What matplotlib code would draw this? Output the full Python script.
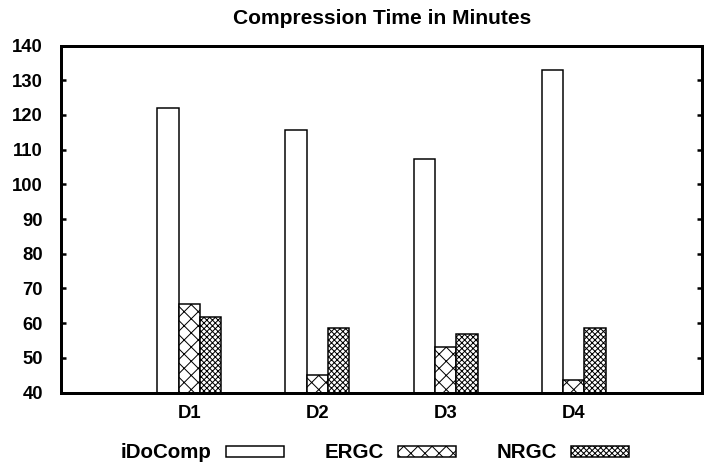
import matplotlib
matplotlib.use("Agg")
import matplotlib.pyplot as plt
import numpy as np

DPI = 85


def pt(px):
    """Convert a size in output pixels to points."""
    return px * 72 / DPI


plt.rcParams['font.family'] = ['Liberation Sans', 'DejaVu Sans']
plt.rcParams['font.weight'] = 'bold'
plt.rcParams['hatch.linewidth'] = pt(1.0)

datasets = ["D1", "D2", "D3", "D4"]
series_names = ["iDoComp", "ERGC", "NRGC"]
idocomp = [121.9, 115.6, 107.2, 132.9]
ergc = [65.6, 44.9, 53.0, 43.6]
nrgc = [61.7, 58.5, 57.0, 58.5]
yticks = [40, 50, 60, 70, 80, 90, 100, 110, 120, 130, 140]

hatches = ["", "xx", "xxxxx"]

W, H = 712, 468
fig = plt.figure(figsize=(W / DPI, H / DPI), dpi=DPI)
ax = fig.add_axes([61 / W, 1 - 392.5 / H, (702 - 61) / W, (392.5 - 45.5) / H])

x = np.arange(len(datasets))
width = 1 / 6
handles = []
for i, (vals, name, h) in enumerate(zip([idocomp, ergc, nrgc], series_names, hatches)):
    b = ax.bar(x + (i - 1) * width, vals, width, color="white", edgecolor="black",
               linewidth=pt(1.5), hatch=h, label=name)
    handles.append(b)

ax.set_xlim(-1, 4)
ax.set_ylim(40, 140)
ax.set_yticks(yticks)
ax.set_xticks(x)
ax.set_xticklabels(datasets)
ax.tick_params(axis='x', length=0, labelsize=pt(18.5), pad=pt(12))
ax.tick_params(axis='y', direction='in', length=pt(5), width=pt(2.5),
               labelsize=pt(18.5), right=True, pad=pt(18))
for s in ax.spines.values():
    s.set_linewidth(pt(3))

fig.text(382 / W, 1 - 18 / H, "Compression Time in Minutes", ha='center', va='center',
         fontsize=pt(21), fontweight='bold')

fig.legend(handles=handles, labels=series_names, loc='center',
           bbox_to_anchor=(375 / W, 1 - 453 / H), ncol=3, frameon=False,
           markerfirst=False, fontsize=pt(20.5), handlelength=2.83, handleheight=0.47,
           handletextpad=0.68, columnspacing=2.0)

fig.savefig("out.png", dpi=DPI)
